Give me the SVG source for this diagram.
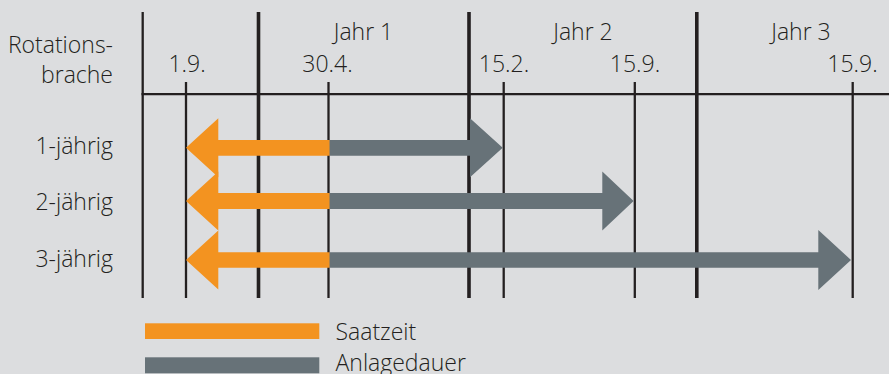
<svg xmlns="http://www.w3.org/2000/svg" width="889" height="374" viewBox="0 0 889 374">
  <style>
    text { font-family: "Open Sans", "Noto Sans", "DejaVu Sans", sans-serif; font-size: 23px; font-weight: 300; fill: #231f20; }
    .r { text-anchor: end; }
    .m { text-anchor: middle; }
    .thick { stroke: #231f20; stroke-width: 3.6; fill: none; }
    .thin { stroke: #231f20; stroke-width: 2.3; fill: none; }
    .or { fill: #f39320; }
    .gr { fill: #677278; }
  </style>
  <rect x="0" y="0" width="889" height="374" fill="#dcdddf"/>

  <g id="header">
    <text class="r" x="113" y="53">Rotations-</text>
    <text class="r" x="113" y="83">brache</text>
    <text class="m" x="363.5" y="40">Jahr 1</text>
    <text class="m" x="583" y="40">Jahr 2</text>
    <text class="m" x="801" y="40">Jahr 3</text>
    <text class="m" x="187" y="72">1.9.</text>
    <text class="m" x="327.5" y="72">30.4.</text>
    <text class="m" x="504" y="72">15.2.</text>
    <text class="m" x="635" y="72">15.9.</text>
    <text class="m" x="852.5" y="72">15.9.</text>
  </g>

  <g id="grid">
    <line class="thin" x1="142.7" y1="12" x2="142.7" y2="298"/>
    <line class="thin" x1="186" y1="82" x2="186" y2="298"/>
    <line class="thick" x1="258.5" y1="12" x2="258.5" y2="298"/>
    <line class="thin" x1="328.5" y1="82" x2="328.5" y2="298"/>
    <line class="thick" x1="469" y1="12" x2="469" y2="298"/>
    <line class="thin" x1="503.7" y1="82" x2="503.7" y2="298"/>
    <line class="thin" x1="634.8" y1="82" x2="634.8" y2="298"/>
    <line class="thick" x1="696.8" y1="12" x2="696.8" y2="298"/>
    <line class="thin" x1="852.7" y1="82" x2="852.7" y2="298"/>
    <line class="thin" x1="141.5" y1="94.2" x2="889" y2="94.2" stroke-width="2.6"/>
  </g>

  <g id="row-labels">
    <text class="r" x="113" y="154">1-jährig</text>
    <text class="r" x="113" y="209.5">2-jährig</text>
    <text class="r" x="113" y="267">3-jährig</text>
  </g>

  <g id="connectors">
    <g id="arrows-1">
      <polygon class="gr" points="329,140 470,140 470,118.3 502.7,147.8 470,177.3 470,155.7 329,155.7"/>
      <polygon class="or" points="186,147.8 218.3,118.3 218.3,140 329.5,140 329.5,155.7 218.3,155.7 218.3,177.3"/>
    </g>
    <g id="arrows-2">
      <polygon class="gr" points="329,193.1 602.3,193.1 602.3,171.6 633.6,201 602.3,230.4 602.3,208.9 329,208.9"/>
      <polygon class="or" points="186,201 218.3,171.5 218.3,193.1 329.5,193.1 329.5,208.9 218.3,208.9 218.3,230.5"/>
    </g>
    <g id="arrows-3">
      <polygon class="gr" points="329,252.2 818.3,252.2 818.3,230 851,260 818.3,290 818.3,267.8 329,267.8"/>
      <polygon class="or" points="186,260 218.3,230.5 218.3,252.2 329.5,252.2 329.5,267.8 218.3,267.8 218.3,289.5"/>
    </g>
  </g>

  <g id="legend">
    <rect class="or" x="145" y="323.3" width="174.3" height="15.7"/>
    <text x="335.5" y="340">Saatzeit</text>
    <rect class="gr" x="145" y="357.3" width="174.3" height="16"/>
    <text x="335.5" y="370.8">Anlagedauer</text>
  </g>
</svg>
